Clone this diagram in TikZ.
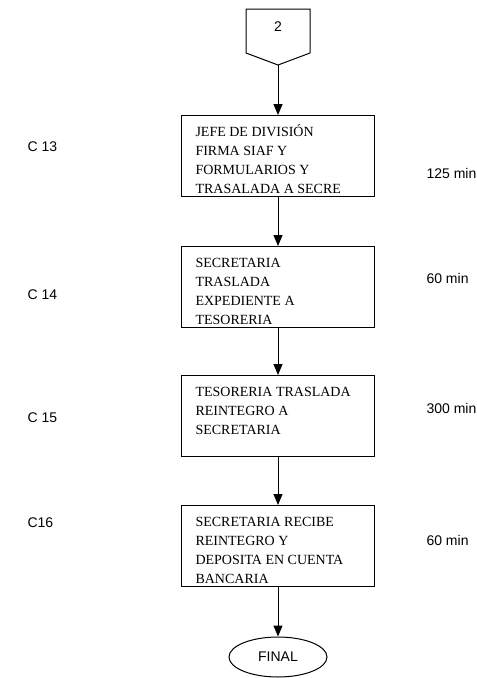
\documentclass[tikz,border=0pt]{standalone}
\usepackage{fontspec}
\setmainfont{Liberation Serif}
\setsansfont{Liberation Sans}
\usepackage{tikz}
\usetikzlibrary{arrows.meta, shapes.geometric}

\newcommand{\steptext}[1]{\parbox[t][66pt][t]{165pt}{\fontsize{14}{19}\selectfont\strut #1}}

\begin{document}
\begin{tikzpicture}[x=1pt, y=-1pt, >={Triangle[length=11pt, width=9pt]},
    stepbox/.style={draw, line width=1pt, anchor=north, inner xsep=14pt, inner ysep=7.7pt},
    tag/.style={anchor=west, font=\sffamily\fontsize{14}{16}\selectfont},
    flow/.style={->, line width=1pt}]
    \useasboundingbox (0,0) rectangle (477,678);

    \draw[line width=1pt] (246,9) -- (310,9) -- (310,53) -- (278,65) -- (246,53) -- cycle;
    \node[font=\sffamily\fontsize{14}{16}\selectfont] (two) at (278,27) {2};
    \coordinate (conn) at (278,65);

    \node[stepbox] (s13) at (278,115) {\steptext{JEFE DE DIVISIÓN\\FIRMA SIAF Y\\FORMULARIOS Y\\TRASALADA A SECRE}};
    \node[stepbox] (s14) at (278,246) {\steptext{SECRETARIA\\TRASLADA\\EXPEDIENTE A\\TESORERIA}};
    \node[stepbox] (s15) at (278,375) {\steptext{TESORERIA TRASLADA\\REINTEGRO A\\SECRETARIA}};
    \node[stepbox] (s16) at (278,505) {\steptext{SECRETARIA RECIBE\\REINTEGRO Y\\DEPOSITA EN CUENTA\\BANCARIA}};
    \node[draw, ellipse, line width=1pt, minimum width=98pt, minimum height=40pt,
          font=\sffamily\fontsize{14}{16}\selectfont] (fin) at (278,657) {FINAL};

    \draw[flow] (conn) -- (s13);
    \draw[flow] (s13) -- (s14);
    \draw[flow] (s14) -- (s15);
    \draw[flow] (s15) -- (s16);
    \draw[flow] (s16) -- (fin);

    \node[tag] (c13) at (24,147) {C 13};
    \node[tag] (c14) at (24,295) {C 14};
    \node[tag] (c15) at (24,418) {C 15};
    \node[tag] (c16) at (24,523) {C16};
    \node[tag] (t13) at (423,173) {125 min};
    \node[tag] (t14) at (423,278) {60 min};
    \node[tag] (t15) at (423,408) {300 min};
    \node[tag] (t16) at (423,540) {60 min};
\end{tikzpicture}
\end{document}
